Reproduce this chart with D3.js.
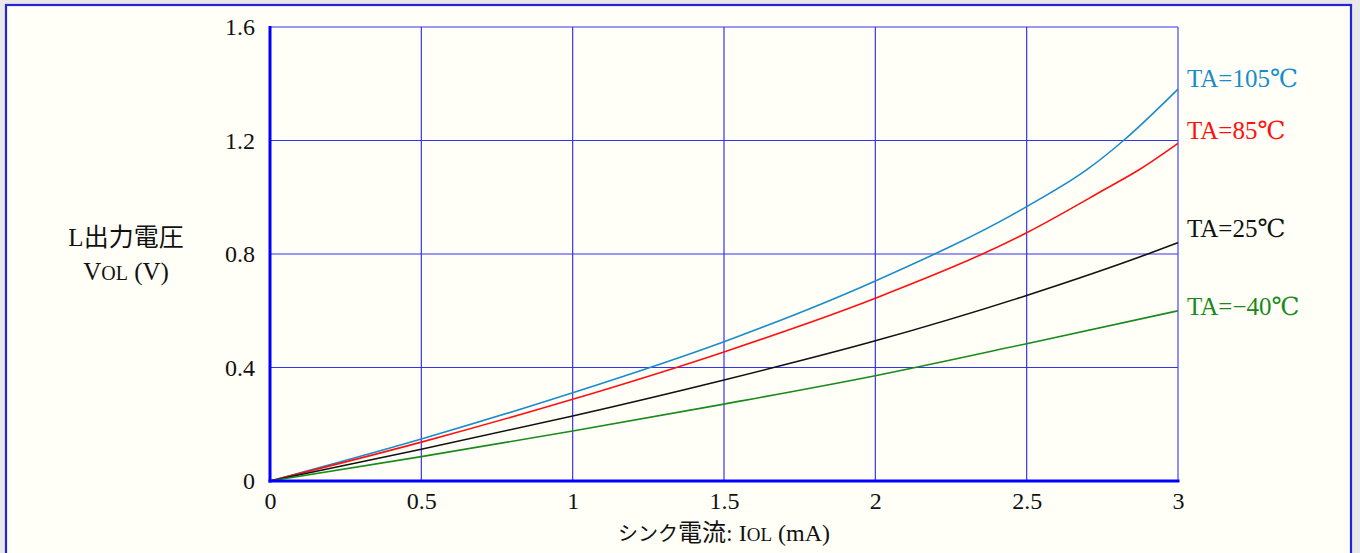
<!DOCTYPE html>
<html><head><meta charset="utf-8">
<script src="https://cdn.jsdelivr.net/npm/d3@7"></script>
<style>
html,body{margin:0;padding:0;background:#e8e8e8;}
svg{display:block;}
text{font-family:"Liberation Serif","DejaVu Serif","Noto Sans CJK JP",serif;}
</style></head>
<body>
<svg id="c" width="1360" height="553"></svg>
<script>
const xTicks = [0, 0.5, 1, 1.5, 2, 2.5, 3];
const yTicks = [0, 0.4, 0.8, 1.2, 1.6];
const seriesNames = ["TA=105℃", "TA=85℃", "TA=25℃", "TA=−40℃"];
const seriesColors = ["#1a8ccc", "#ff1010", "#111111", "#1a8a1a"];
const t105 = [[0,0],[0.5,0.148],[1,0.311],[1.5,0.491],[2,0.705],[2.5,0.967],[2.7,1.098],[2.82,1.2],[3,1.381]];
const t85  = [[0,0],[0.5,0.137],[1,0.288],[1.5,0.455],[2,0.644],[2.5,0.875],[2.76,1.029],[2.87,1.096],[3,1.19]];
const t25  = [[0,0],[0.5,0.112],[1,0.229],[1.5,0.356],[2,0.494],[2.5,0.654],[2.9,0.8],[3,0.84]];
const tm40 = [[0,0],[0.5,0.086],[1,0.176],[1.5,0.271],[2,0.371],[2.5,0.484],[3,0.600]];
const seriesData = [t105, t85, t25, tm40];
const labelY = [1.42, 1.235, 0.89, 0.615];

const svg = d3.select("#c");
svg.append("rect").attr("x",6).attr("y",5).attr("width",1345).attr("height",560)
  .attr("fill","#fffff8").attr("stroke","#2323d8").attr("stroke-width",2.2);

const x = d3.scaleLinear().domain([0,3]).range([270,1178]);
const y = d3.scaleLinear().domain([0,1.6]).range([481,27]);

const g = svg.append("g");
g.selectAll("line.v").data(xTicks.slice(1)).join("line")
  .attr("x1",d=>x(d)).attr("x2",d=>x(d)).attr("y1",y(0)).attr("y2",y(1.6))
  .attr("stroke",d=> d===3 ? "#6a6aff" : "#3434f0").attr("stroke-width",d=>d===3?1.5:1.2);
g.selectAll("line.h").data(yTicks.slice(1)).join("line")
  .attr("x1",x(0)).attr("x2",x(3)).attr("y1",d=>y(d)).attr("y2",d=>y(d))
  .attr("stroke","#3434f0").attr("stroke-width",1.2);

const line = d3.line().x(d=>x(d[0])).y(d=>y(d[1])).curve(d3.curveMonotoneX);
seriesData.forEach((s,i)=>{
  svg.append("path").datum(s).attr("d",line).attr("fill","none")
    .attr("stroke",seriesColors[i]).attr("stroke-width",1.6);
});

svg.append("line").attr("x1",x(0)).attr("x2",x(0)).attr("y1",y(1.6)-1).attr("y2",y(0)+1.5)
  .attr("stroke","#0000ff").attr("stroke-width",3);
svg.append("line").attr("x1",x(0)-1.5).attr("x2",x(3)+1.5).attr("y1",y(0)).attr("y2",y(0))
  .attr("stroke","#0000ff").attr("stroke-width",3);

const yAxis = d3.axisLeft(y).tickValues(yTicks).tickFormat(d=>d===0?"0":d3.format(".1f")(d)).tickSize(0).tickPadding(15);
const ya = svg.append("g").attr("transform",`translate(${x(0)},0)`).call(yAxis);
ya.select(".domain").remove();
ya.selectAll("text").attr("font-size",24).attr("fill","#111")
  .style("font-family",'"Liberation Serif","DejaVu Serif",serif');

const xAxis = d3.axisBottom(x).tickValues(xTicks).tickFormat(d=>String(d)).tickSize(0).tickPadding(11);
const xa = svg.append("g").attr("transform",`translate(0,${y(0)})`).call(xAxis);
xa.select(".domain").remove();
xa.selectAll("text").attr("font-size",24).attr("fill","#111")
  .style("font-family",'"Liberation Serif","DejaVu Serif",serif');

seriesNames.forEach((n,i)=>{
  svg.append("text").attr("x",1187).attr("y",y(labelY[i])).attr("dy","0.35em")
    .attr("font-size",25).attr("fill",seriesColors[i]).text(n);
});

const yt = svg.append("text").attr("x",126).attr("y",237).attr("dy","0.35em")
  .attr("text-anchor","middle").attr("font-size",25).attr("fill","#111");
yt.append("tspan").text("L出力電圧");
const yt2 = svg.append("text").attr("x",126).attr("y",271).attr("dy","0.35em")
  .attr("text-anchor","middle").attr("font-size",25).attr("fill","#111");
yt2.append("tspan").text("V");
yt2.append("tspan").attr("font-size",20).text("OL");
yt2.append("tspan").text(" (V)");

const xt = svg.append("text").attr("x",724).attr("y",533).attr("dy","0.35em")
  .attr("text-anchor","middle").attr("font-size",24).attr("fill","#111");
xt.append("tspan").attr("font-size",20).text("シンク");
xt.append("tspan").text("電流: I");
xt.append("tspan").attr("font-size",19).text("OL");
xt.append("tspan").text(" (mA)");
</script>
</body></html>
